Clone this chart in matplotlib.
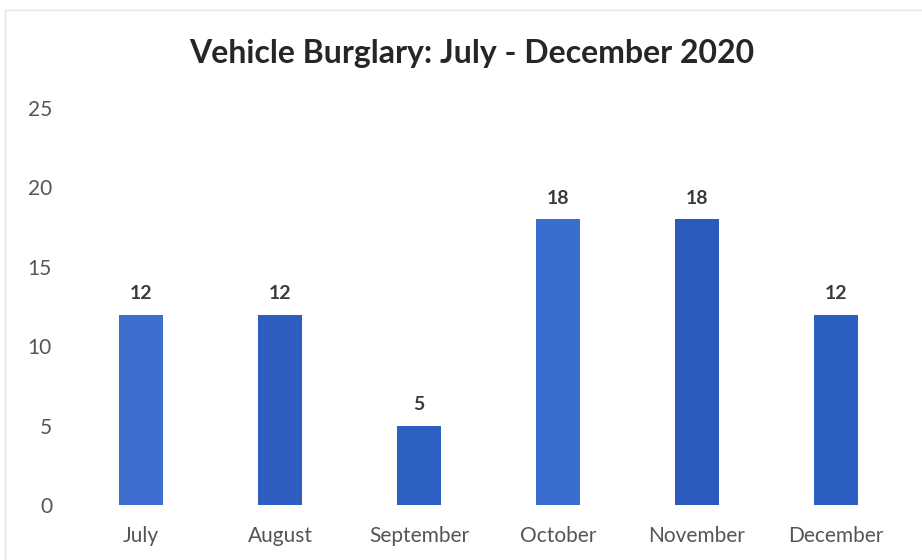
import matplotlib
matplotlib.use("Agg")
import matplotlib.pyplot as plt
from matplotlib.patches import Rectangle

months = ["July", "August", "September", "October", "November", "December"]
counts = [12, 12, 5, 18, 18, 12]
bar_colors = ["#3d6ed0", "#2d5dc1", "#2e5fc3", "#3b6cd0", "#2b5bbf", "#2d5ec2"]
y_ticks = [0, 5, 10, 15, 20, 25]

plt.rcParams["font.family"] = ["Lato", "DejaVu Sans"]

fig = plt.figure(figsize=(9.22, 5.60), dpi=100)
ax = fig.add_axes([0.0775, 0.098, 0.9045, 0.709])

x = range(len(months))
ax.bar(x, counts, width=0.32, color=bar_colors)
for xi, v in zip(x, counts):
    ax.annotate(str(v), (xi, v), xytext=(0, 9), textcoords="offset points",
                ha="center", va="bottom", fontsize=14, fontweight="bold",
                color="#3a3a3a")

ax.set_xlim(-0.5, len(months) - 0.5)
ax.set_ylim(0, 25)
ax.set_xticks(list(x))
ax.set_xticklabels(months)
ax.set_yticks(y_ticks)
ax.tick_params(axis="x", length=0, pad=15, labelsize=15, labelcolor="#555555")
ax.tick_params(axis="y", length=0, pad=14, labelsize=15, labelcolor="#555555")
for s in ax.spines.values():
    s.set_visible(False)

fig.text(0.512, 0.905, "Vehicle Burglary: July - December 2020", ha="center",
         va="center", fontsize=23, fontweight="bold", color="#262626")

# thin frame around the chart area
fig.patches.append(Rectangle((5 / 922, -0.01), 1.0, 1 - 10 / 560 + 0.01,
                             transform=fig.transFigure, fill=False,
                             edgecolor="#e4e4e4", linewidth=1.0))

fig.savefig("out.png", dpi=100)
